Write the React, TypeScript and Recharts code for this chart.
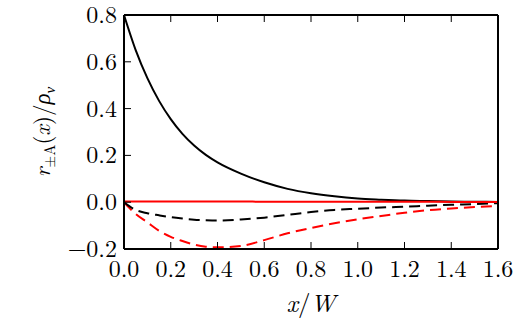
import { Line, LineChart, XAxis, YAxis } from "recharts";

const xs = [0, 0.05, 0.1, 0.15, 0.2, 0.25, 0.3, 0.35, 0.4, 0.5, 0.6, 0.7, 0.8, 0.9, 1.0, 1.1, 1.2, 1.3, 1.4, 1.5, 1.6];
const blackSolid = [0.8, 0.65, 0.53, 0.433, 0.355, 0.292, 0.242, 0.202, 0.17, 0.122, 0.085, 0.057, 0.038, 0.025, 0.016, 0.011, 0.007, 0.005, 0.003, 0.002, 0.001];
const redSolid = [0.003, 0.003, 0.003, 0.003, 0.003, 0.003, 0.003, 0.003, 0.003, 0.003, 0.002, 0.002, 0.002, 0.002, 0.002, 0.002, 0.002, 0.002, 0.001, 0.001, 0.001];
const blackDashed = [0, -0.033, -0.047, -0.056, -0.064, -0.07, -0.075, -0.077, -0.078, -0.074, -0.066, -0.054, -0.042, -0.033, -0.028, -0.023, -0.019, -0.015, -0.011, -0.008, -0.004];
const redDashed = [0, -0.05, -0.086, -0.122, -0.148, -0.166, -0.181, -0.19, -0.193, -0.187, -0.162, -0.133, -0.11, -0.09, -0.073, -0.059, -0.045, -0.034, -0.027, -0.021, -0.016];

const xTicks = [0, 0.2, 0.4, 0.6, 0.8, 1.0, 1.2, 1.4, 1.6];
const yTicks = [-0.2, 0, 0.2, 0.4, 0.6, 0.8];

const data = xs.map((x, i) => ({
  x,
  blackSolid: blackSolid[i],
  redSolid: redSolid[i],
  blackDashed: blackDashed[i],
  redDashed: redDashed[i]
}));

const font = "'Latin Modern Roman', 'Liberation Serif', serif";
const fmt = (v: number) => (v < 0 ? "\u2212" : "") + Math.abs(v).toFixed(1);

function BottomTick({ x, y, payload }: any) {
  return (
    <g>
      <line x1={x} x2={x} y1={y} y2={y - 7} stroke="#000" strokeWidth={1} />
      <text x={x} y={y + 28} textAnchor="middle" style={{ fontFamily: font }} fontSize={24} fill="#000">
        {fmt(payload.value)}
      </text>
    </g>
  );
}

function LeftTick({ x, y, payload }: any) {
  return (
    <g>
      <line x1={x} x2={x + 7} y1={y} y2={y} stroke="#000" strokeWidth={1} />
      <text x={x - 7} y={y + 8} textAnchor="end" style={{ fontFamily: font }} fontSize={24} fill="#000">
        {fmt(payload.value)}
      </text>
    </g>
  );
}

function TopTick({ x, y }: any) {
  return <line x1={x} x2={x} y1={y} y2={y + 7} stroke="#000" strokeWidth={1} />;
}

function RightTick({ x, y }: any) {
  return <line x1={x} x2={x - 7} y1={y} y2={y} stroke="#000" strokeWidth={1} />;
}

export default function App() {
  const axisLine = { stroke: "#000", strokeWidth: 2 };
  return (
    <div style={{ position: "absolute", left: 0, top: 0, width: 519, height: 321, background: "#fff" }}>
      <LineChart width={519} height={321} data={data} margin={{ top: 0, right: 0, bottom: 0, left: 0 }}>
        <XAxis
          dataKey="x"
          type="number"
          domain={[0, 1.6]}
          ticks={xTicks}
          height={72}
          axisLine={axisLine}
          tickLine={false}
          tickSize={0}
          tickMargin={0}
          tick={<BottomTick />}
          interval={0}
        />
        <XAxis
          xAxisId="top"
          orientation="top"
          dataKey="x"
          type="number"
          domain={[0, 1.6]}
          ticks={xTicks}
          height={15}
          axisLine={axisLine}
          tickLine={false}
          tickSize={0}
          tickMargin={0}
          tick={<TopTick />}
          interval={0}
        />
        <YAxis
          type="number"
          domain={[-0.2, 0.8]}
          ticks={yTicks}
          width={124}
          axisLine={axisLine}
          tickLine={false}
          tickSize={0}
          tickMargin={0}
          tick={<LeftTick />}
          interval={0}
        />
        <YAxis
          yAxisId="right"
          orientation="right"
          type="number"
          domain={[-0.2, 0.8]}
          ticks={yTicks}
          width={21}
          axisLine={axisLine}
          tickLine={false}
          tickSize={0}
          tickMargin={0}
          tick={<RightTick />}
          interval={0}
        />
        <Line type="monotone" dataKey="redDashed" stroke="#ff0000" strokeWidth={2} strokeDasharray="11 6" dot={false} isAnimationActive={false} />
        <Line type="monotone" dataKey="blackDashed" stroke="#000" strokeWidth={2} strokeDasharray="11 6" dot={false} isAnimationActive={false} />
        <Line type="monotone" dataKey="blackSolid" stroke="#000" strokeWidth={2} dot={false} isAnimationActive={false} />
        <Line type="monotone" dataKey="redSolid" stroke="#ff0000" strokeWidth={2} dot={false} isAnimationActive={false} />
      </LineChart>
      <svg width={519} height={321} style={{ position: "absolute", left: 0, top: 0, pointerEvents: "none", fontFamily: font }}>
        <text x={311} y={312} textAnchor="middle" fontSize={25} fill="#000">
          <tspan fontStyle="italic">x</tspan>
          <tspan>/</tspan>
          <tspan fontStyle="italic">W</tspan>
        </text>
        <text x={50} y={132} transform="rotate(-90, 50, 132)" textAnchor="middle" fontSize={23} fill="#000">
          <tspan fontStyle="italic">r</tspan>
          <tspan fontSize={15} dy={5}>±A</tspan>
          <tspan dy={-5}>(</tspan>
          <tspan fontStyle="italic">x</tspan>
          <tspan>)/</tspan>
          <tspan fontStyle="italic">ρ</tspan>
          <tspan fontSize={15} fontStyle="italic" dy={5}>ν</tspan>
        </text>
      </svg>
    </div>
  );
}
